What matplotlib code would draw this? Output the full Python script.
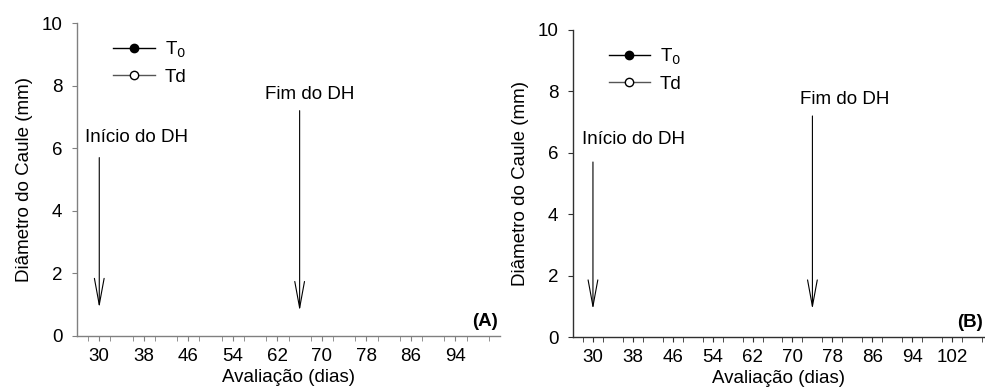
import matplotlib
matplotlib.use("Agg")
import matplotlib.pyplot as plt
from matplotlib.ticker import MultipleLocator

plt.rcParams['font.family'] = ['Liberation Sans', 'DejaVu Sans']

# data (no measured points are shown in the reference, only the legend)
dias_a = []
t0_a = []
td_a = []
dias_b = []
t0_b = []
td_b = []

xticks_a = [30, 38, 46, 54, 62, 70, 78, 86, 94]
xticks_b = [30, 38, 46, 54, 62, 70, 78, 86, 94, 102]
inicio_a, fim_a = 30, 66
inicio_b, fim_b = 30, 74

W, H = 985, 391
FS = 13.5
fig = plt.figure(figsize=(W / 100, H / 100), dpi=100)


def panel(rect, dias, t0, td, xticks, xmax, inicio, fim, tag, spine_col,
          ini_y, fim_y, ini_txt, fim_txt, leg_anchor):
    l, r, b, t = rect
    ax = fig.add_axes([l / W, 1 - b / H, (r - l) / W, (b - t) / H])
    ax.plot(dias, t0, '-o', color='black', mfc='black', ms=6, lw=1, label='T$_0$')
    ax.plot(dias, td, '-o', color='#555555', mfc='white', mec='black', ms=6, lw=1, label='Td')
    ax.set_xticks(xticks)
    ax.xaxis.set_minor_locator(MultipleLocator(4))
    ax.set_yticks([0, 2, 4, 6, 8, 10])
    for s in ['top', 'right']:
        ax.spines[s].set_visible(False)
    for s in ['left', 'bottom']:
        ax.spines[s].set_color(spine_col)
        ax.spines[s].set_linewidth(1)
    ax.tick_params(which='both', direction='out', color=spine_col, labelsize=FS, length=3.5)
    ax.tick_params(axis='x', which='major', pad=5)
    ax.tick_params(axis='y', which='major', pad=7)
    ax.set_xlabel('Avaliação (dias)', fontsize=FS, labelpad=3)
    ax.set_ylabel('Diâmetro do Caule (mm)', fontsize=FS, labelpad=6)
    ax.set_xlim(26, xmax)
    ax.set_ylim(0, 10)

    aprops = dict(arrowstyle='->,head_length=1.9,head_width=0.35', color='black',
                  lw=0.8, shrinkA=0, shrinkB=0, mutation_scale=10)
    ax.annotate('', xy=(inicio, ini_y[1]), xytext=(inicio, ini_y[0]), arrowprops=aprops)
    ax.annotate('', xy=(fim, fim_y[1]), xytext=(fim, fim_y[0]), arrowprops=aprops)
    ax.text(ini_txt[0], ini_txt[1], 'Início do DH', fontsize=FS, ha='left', va='center')
    ax.text(fim_txt[0], fim_txt[1], 'Fim do DH', fontsize=FS, ha='left', va='center')
    ax.text(0.995, 0.02, tag, transform=ax.transAxes, fontsize=FS,
            fontweight='bold', ha='right', va='bottom')
    ax.legend(loc='upper left', bbox_to_anchor=leg_anchor, frameon=False,
              fontsize=FS, handlelength=2.2, handletextpad=0.55,
              labelspacing=0.45, borderaxespad=0)
    return ax


panel((77, 500, 336, 23), dias_a, t0_a, td_a, xticks_a, 102, inicio_a, fim_a, '(A)',
      '#808080', (5.7, 0.9), (7.2, 0.8), (27.5, 6.35), (59.7, 7.7), (0.068, 0.97))
panel((573, 985, 337, 30), dias_b, t0_b, td_b, xticks_b, 108.6, inicio_b, fim_b, '(B)',
      '#303030', (5.7, 0.9), (7.2, 0.9), (27.8, 6.42), (71.6, 7.75), (0.068, 0.97))

fig.savefig('out.png', dpi=100)
